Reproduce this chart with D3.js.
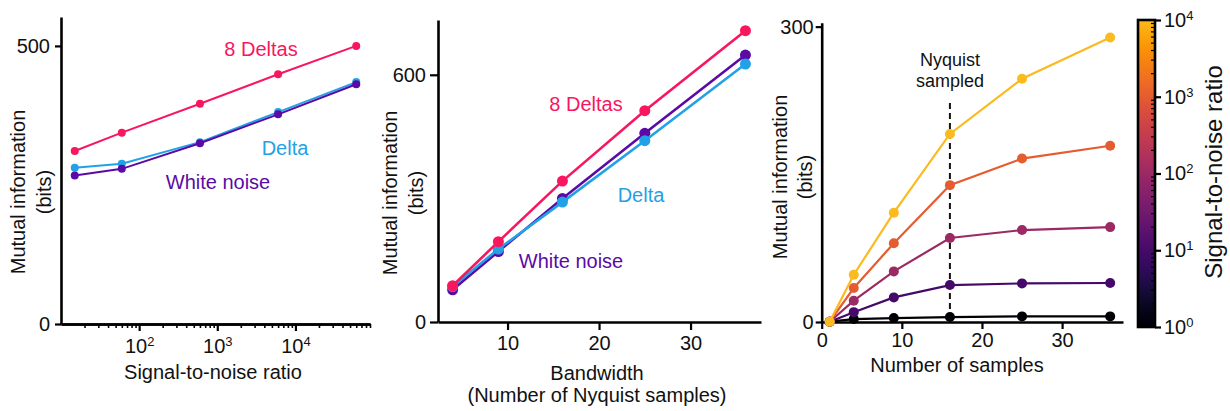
<!DOCTYPE html>
<html><head><meta charset="utf-8">
<script src="https://cdn.jsdelivr.net/npm/d3@7"></script>
<style>body{margin:0;background:#fff} text{font-family:"Liberation Sans",Arial,Helvetica,sans-serif;fill:#111}</style>
</head><body><svg id="c" width="1230" height="411"></svg>
<script>
// ---------- DATA ----------
// Panel 1: MI vs signal-to-noise ratio
const snrLevels = [15, 60, 600, 6000, 60000];
const snrEightDeltas = [311, 344, 396, 449, 500];
const snrDelta = [281, 288, 327, 381, 435];
const snrWhiteNoise = [267, 279, 325, 377, 431];
const snrTickValues = [100, 1000, 10000];

// Panel 2: MI vs bandwidth
const bandwidths = [4, 9, 16, 25, 36];
const bwEightDeltas = [88, 195, 342, 513, 707];
const bwDelta = [86, 177, 291, 440, 626];
const bwWhiteNoise = [78, 171, 300, 458, 648];
const bwTicks = [10, 20, 30];
const bwYTicks = [0, 600];

// Panel 3: MI vs number of samples, one line per SNR
const sampleCounts = [1, 4, 9, 16, 25, 36];
const seriesSNR = [1, 10, 100, 1000, 10000];
const miSnr1 = [0.3, 3, 4, 5, 5.7, 5.7];
const miSnr10 = [0.3, 10, 25, 37.5, 39.2, 39.6];
const miSnr100 = [0.3, 21.6, 51.4, 85.3, 93.4, 96.4];
const miSnr1000 = [0.3, 34.5, 80, 139, 166, 179];
const miSnr10000 = [0.3, 48, 111, 191, 247, 289];
const nyquistSamples = 16;
const sampleTicks = [0, 10, 20, 30];
const sampleYTicks = [0, 300];
const colorbarTicks = [1, 10, 100, 1000, 10000];

// ---------- STYLE ----------
const C8 = "#f8165f", CD = "#23a1e6", CW = "#5a0ba6";
const FS = 20;
const svg = d3.select("#c");

function styleAxis(g, w) {
  g.select(".domain").attr("stroke", "#000").attr("stroke-width", 2.6);
  g.selectAll(".tick line").attr("stroke", "#000").attr("stroke-width", w || 2.2);
  g.selectAll(".tick text").attr("font-size", FS).attr("fill", "#111")
    .style("font-family", '"Liberation Sans",Arial,sans-serif');
}
function supLabel(sel, v) {
  const k = Math.round(Math.log10(v));
  sel.text(null);
  sel.append("tspan").text("10");
  sel.append("tspan").attr("dy", "-0.55em").attr("font-size", 13).text(k);
}
function yTitle(x1, x2, cy) {
  svg.append("text").attr("transform", `translate(${x1},${cy}) rotate(-90)`)
    .attr("text-anchor", "middle").attr("dy", "0.35em").attr("font-size", FS).text("Mutual information");
  svg.append("text").attr("transform", `translate(${x2},${cy}) rotate(-90)`)
    .attr("text-anchor", "middle").attr("dy", "0.35em").attr("font-size", FS).text("(bits)");
}
function drawSeries(xs, ys, xScale, yScale, color, lw, r) {
  const pts = xs.map((d, i) => [xScale(d), yScale(ys[i])]);
  svg.append("path").attr("d", d3.line()(pts)).attr("fill", "none")
    .attr("stroke", color).attr("stroke-width", lw);
  svg.append("g").selectAll("circle").data(pts).join("circle")
    .attr("cx", d => d[0]).attr("cy", d => d[1]).attr("r", r).attr("fill", color);
}

// ---------- PANEL 1 ----------
{
  const x = d3.scaleLog().domain([10, 90000]).range([61, 370]);
  const y = d3.scaleLinear().domain([0, 552]).range([324, 17]);
  // minor ticks
  const minor = [];
  for (let e = 1; e <= 4; e++) for (let m = 2; m <= 9; m++) { const v = m * Math.pow(10, e); if (v <= 90000) minor.push(v); }
  svg.append("g").attr("transform", "translate(0,324)")
    .call(d3.axisBottom(x).tickValues(minor).tickSize(4).tickSizeOuter(0).tickFormat(""))
    .call(g => styleAxis(g, 1.6));
  svg.append("g").attr("transform", "translate(0,324)")
    .call(d3.axisBottom(x).tickValues(snrTickValues).tickSize(7).tickSizeOuter(0).tickPadding(8))
    .call(g => styleAxis(g))
    .call(g => g.selectAll(".tick text").each(function (d) { supLabel(d3.select(this), d); }));
  svg.append("g").attr("transform", "translate(61,0)")
    .call(d3.axisLeft(y).tickValues([0, 500]).tickSize(6).tickSizeOuter(0).tickPadding(5))
    .call(g => styleAxis(g));
  drawSeries(snrLevels, snrEightDeltas, x, y, C8, 2, 4);
  drawSeries(snrLevels, snrDelta, x, y, CD, 2, 4);
  drawSeries(snrLevels, snrWhiteNoise, x, y, CW, 2, 4);
  svg.append("text").attr("x", 261).attr("y", 56).attr("text-anchor", "middle").attr("font-size", FS).style("fill", C8).text("8 Deltas");
  svg.append("text").attr("x", 285).attr("y", 155).attr("text-anchor", "middle").attr("font-size", FS).style("fill", CD).text("Delta");
  svg.append("text").attr("x", 218).attr("y", 189).attr("text-anchor", "middle").attr("font-size", FS).style("fill", CW).text("White noise");
  yTitle(18, 44, 192);
  svg.append("text").attr("x", 213).attr("y", 379).attr("text-anchor", "middle").attr("font-size", FS).text("Signal-to-noise ratio");
}

// ---------- PANEL 2 ----------
{
  const x = d3.scaleLinear().domain([2.4, 37.7]).range([438, 761]);
  const y = d3.scaleLinear().domain([0, 733]).range([322, 20]);
  svg.append("g").attr("transform", "translate(0,322)")
    .call(d3.axisBottom(x).tickValues(bwTicks).tickSize(8).tickSizeOuter(0).tickPadding(6))
    .call(g => styleAxis(g));
  svg.append("g").attr("transform", "translate(438,0)")
    .call(d3.axisLeft(y).tickValues(bwYTicks).tickSize(8).tickSizeOuter(0).tickPadding(4))
    .call(g => styleAxis(g));
  drawSeries(bandwidths, bwWhiteNoise, x, y, CW, 2.6, 5.5);
  drawSeries(bandwidths, bwDelta, x, y, CD, 2.6, 5.5);
  drawSeries(bandwidths, bwEightDeltas, x, y, C8, 2.6, 5.5);
  svg.append("text").attr("x", 586).attr("y", 111).attr("text-anchor", "middle").attr("font-size", FS).style("fill", C8).text("8 Deltas");
  svg.append("text").attr("x", 641).attr("y", 202).attr("text-anchor", "middle").attr("font-size", FS).style("fill", CD).text("Delta");
  svg.append("text").attr("x", 571).attr("y", 268).attr("text-anchor", "middle").attr("font-size", FS).style("fill", CW).text("White noise");
  yTitle(390, 416, 193);
  svg.append("text").attr("x", 597).attr("y", 380).attr("text-anchor", "middle").attr("font-size", FS).text("Bandwidth");
  svg.append("text").attr("x", 597).attr("y", 402).attr("text-anchor", "middle").attr("font-size", FS).text("(Number of Nyquist samples)");
}

// ---------- PANEL 3 ----------
{
  const x = d3.scaleLinear().domain([0, 37.6]).range([821.7, 1123]);
  const y = d3.scaleLinear().domain([0, 304]).range([322, 22.7]);
  const cLog = d3.scaleLog().domain([1, 10000]).range([0, 0.84]);
  const color = v => d3.interpolateInferno(cLog(v));
  svg.append("g").attr("transform", "translate(0,322)")
    .call(d3.axisBottom(x).tickValues(sampleTicks).tickSize(7).tickSizeOuter(0).tickPadding(4))
    .call(g => styleAxis(g));
  svg.append("g").attr("transform", "translate(821.7,0)")
    .call(d3.axisLeft(y).tickValues(sampleYTicks).tickSize(6).tickSizeOuter(0).tickPadding(2))
    .call(g => styleAxis(g));
  // dashed Nyquist line
  svg.append("line").attr("x1", x(nyquistSamples)).attr("x2", x(nyquistSamples))
    .attr("y1", 103).attr("y2", 322).attr("stroke", "#111").attr("stroke-width", 2)
    .attr("stroke-dasharray", "6,4");
  const seriesValues = [miSnr1, miSnr10, miSnr100, miSnr1000, miSnr10000];
  seriesValues.forEach((vals, i) => drawSeries(sampleCounts, vals, x, y, color(seriesSNR[i]), 2.2, 5));
  svg.append("text").attr("x", 950).attr("y", 66).attr("text-anchor", "middle").attr("font-size", 18).text("Nyquist");
  svg.append("text").attr("x", 950).attr("y", 87).attr("text-anchor", "middle").attr("font-size", 18).text("sampled");
  yTitle(780, 805, 177);
  svg.append("text").attr("x", 957).attr("y", 372).attr("text-anchor", "middle").attr("font-size", FS).text("Number of samples");

  // colorbar
  const cb = d3.scaleLog().domain([1, 10000]).range([327, 20]);
  const x0 = 1138, w = 17;
  const defs = svg.append("defs");
  const grad = defs.append("linearGradient").attr("id", "cbg").attr("x1", 0).attr("y1", 1).attr("x2", 0).attr("y2", 0);
  d3.range(0, 1.0001, 0.05).forEach(t => grad.append("stop").attr("offset", t).attr("stop-color", d3.interpolateInferno(t * 0.84)));
  svg.append("rect").attr("x", x0).attr("y", 20).attr("width", w).attr("height", 307).attr("fill", "url(#cbg)");
  const minor = [];
  for (let e = 0; e < 4; e++) for (let m = 2; m <= 9; m++) minor.push(m * Math.pow(10, e));
  svg.append("g").selectAll("line").data(minor).join("line")
    .attr("x1", x0 + w - 4).attr("x2", x0 + w).attr("y1", d => cb(d)).attr("y2", d => cb(d))
    .attr("stroke", "#000").attr("stroke-width", 1.2);
  svg.append("rect").attr("x", x0).attr("y", 20).attr("width", w).attr("height", 307)
    .attr("fill", "none").attr("stroke", "#000").attr("stroke-width", 2.6);
  svg.append("g").attr("transform", `translate(${x0 + w},0)`)
    .call(d3.axisRight(cb).tickValues(colorbarTicks).tickSize(6).tickSizeOuter(0).tickPadding(3))
    .call(g => styleAxis(g))
    .call(g => g.select(".domain").remove())
    .call(g => g.selectAll(".tick text").each(function (d) { supLabel(d3.select(this), d); }));
  svg.append("text").attr("transform", "translate(1214,172) rotate(-90)").attr("text-anchor", "middle")
    .attr("dy", "0.35em").attr("font-size", 24).text("Signal-to-noise ratio");
}
</script></body></html>
